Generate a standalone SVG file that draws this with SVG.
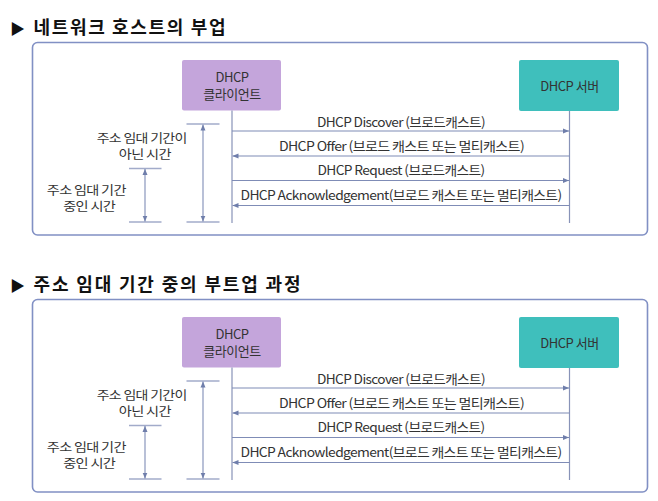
<svg xmlns="http://www.w3.org/2000/svg" width="658" height="501" viewBox="0 0 658 501">
<defs>
<style>
text{font-family:"Noto Sans CJK KR","Noto Sans",sans-serif;fill:#333;}
.title{font-size:18px;font-weight:bold;fill:#111;}
.msg{font-size:13px;text-anchor:middle;letter-spacing:-0.6px;}
.lbl{font-size:12.5px;text-anchor:middle;letter-spacing:-0.6px;}
.node{font-size:13px;text-anchor:middle;letter-spacing:-0.5px;}
.panel{fill:#fff;stroke:#8190c4;stroke-width:1.6;}
.client{fill:#c4a5db;}
.server{fill:#3fbfbc;}
.life{stroke:#8893b8;stroke-width:1.2;fill:none;}
.arr{stroke:#7f8cb6;stroke-width:1.1;fill:none;}
.tick{stroke:#a2abca;stroke-width:1.6;fill:none;}
.dim{stroke:#7f8cb6;stroke-width:1.1;fill:none;marker-start:url(#ah);marker-end:url(#ah);}
</style>
<marker id="ah" viewBox="0 0 6 6" refX="6" refY="3" markerWidth="6" markerHeight="6" markerUnits="userSpaceOnUse" orient="auto-start-reverse">
<path d="M0,0.5 L6,3 L0,5.5 z" fill="#6f7eab"/>
</marker>
</defs>

<!-- Panel 1 -->
<g id="title1"><text class="title" x="10" y="34"><tspan font-size="15">▶</tspan><tspan x="33.5" textLength="192" lengthAdjust="spacing">네트워크 호스트의 부업</tspan></text></g>
<g id="panel1">
<rect class="panel" x="32.5" y="42.5" width="615" height="192.5" rx="5"/>
<g id="p1-client"><rect class="client" x="182" y="60" width="99" height="50.5" rx="2"/><text class="node" x="232" y="82">DHCP</text><text class="node" x="232" y="98.5">클라이언트</text></g>
<g id="p1-server"><rect class="server" x="519" y="60" width="100" height="51" rx="2"/><text class="node" x="569.5" y="90.5">DHCP 서버</text></g>
<g id="p1-connectors">
<line class="life" x1="232" y1="110.5" x2="232" y2="223"/>
<line class="life" x1="569.5" y1="111" x2="569.5" y2="223"/>
<line class="arr" x1="232" y1="131" x2="569" y2="131" marker-end="url(#ah)"/>
<line class="arr" x1="569.5" y1="156" x2="232.5" y2="156" marker-end="url(#ah)"/>
<line class="arr" x1="232" y1="180.5" x2="569" y2="180.5" marker-end="url(#ah)"/>
<line class="arr" x1="569.5" y1="205.5" x2="232.5" y2="205.5" marker-end="url(#ah)"/>
<line class="tick" x1="186.5" y1="124" x2="219.5" y2="124"/>
<line class="tick" x1="186.5" y1="222" x2="219.5" y2="222"/>
<line class="dim" x1="203" y1="124.5" x2="203" y2="221.5"/>
<line class="tick" x1="129" y1="168.5" x2="161.5" y2="168.5"/>
<line class="tick" x1="129" y1="222" x2="161.5" y2="222"/>
<line class="dim" x1="145" y1="169" x2="145" y2="221.5"/>
</g>
<g id="p1-labels">
<text class="msg" x="401" y="126.5" textLength="168" lengthAdjust="spacingAndGlyphs">DHCP Discover (브로드캐스트)</text>
<text class="msg" x="401.5" y="150.5" textLength="245" lengthAdjust="spacingAndGlyphs">DHCP Offer (브로드 캐스트 또는 멀티캐스트)</text>
<text class="msg" x="401" y="175" textLength="167" lengthAdjust="spacingAndGlyphs">DHCP Request (브로드캐스트)</text>
<text class="msg" x="401" y="200" textLength="321" lengthAdjust="spacingAndGlyphs">DHCP Acknowledgement(브로드 캐스트 또는 멀티캐스트)</text>
<text class="lbl" x="141.7" y="143" textLength="90" lengthAdjust="spacingAndGlyphs">주소 임대 기간이</text>
<text class="lbl" x="144.8" y="159" textLength="52" lengthAdjust="spacingAndGlyphs">아닌 시간</text>
<text class="lbl" x="86.3" y="194.5" textLength="79" lengthAdjust="spacingAndGlyphs">주소 임대 기간</text>
<text class="lbl" x="89.2" y="211" textLength="52" lengthAdjust="spacingAndGlyphs">중인 시간</text>
</g>
</g>

<!-- Panel 2 -->
<g id="title2"><text class="title" x="10" y="291"><tspan font-size="15">▶</tspan><tspan x="33.5" textLength="267" lengthAdjust="spacing">주소 임대 기간 중의 부트업 과정</tspan></text></g>
<g id="panel2" transform="translate(0,257)">
<rect class="panel" x="32.5" y="42.5" width="615" height="192.5" rx="5"/>
<g id="p2-client"><rect class="client" x="182" y="60" width="99" height="50.5" rx="2"/><text class="node" x="232" y="82">DHCP</text><text class="node" x="232" y="98.5">클라이언트</text></g>
<g id="p2-server"><rect class="server" x="519" y="60" width="100" height="51" rx="2"/><text class="node" x="569.5" y="90.5">DHCP 서버</text></g>
<g id="p2-connectors">
<line class="life" x1="232" y1="110.5" x2="232" y2="223"/>
<line class="life" x1="569.5" y1="111" x2="569.5" y2="223"/>
<line class="arr" x1="232" y1="131" x2="569" y2="131" marker-end="url(#ah)"/>
<line class="arr" x1="569.5" y1="156" x2="232.5" y2="156" marker-end="url(#ah)"/>
<line class="arr" x1="232" y1="180.5" x2="569" y2="180.5" marker-end="url(#ah)"/>
<line class="arr" x1="569.5" y1="205.5" x2="232.5" y2="205.5" marker-end="url(#ah)"/>
<line class="tick" x1="186.5" y1="124" x2="219.5" y2="124"/>
<line class="tick" x1="186.5" y1="222" x2="219.5" y2="222"/>
<line class="dim" x1="203" y1="124.5" x2="203" y2="221.5"/>
<line class="tick" x1="129" y1="168.5" x2="161.5" y2="168.5"/>
<line class="tick" x1="129" y1="222" x2="161.5" y2="222"/>
<line class="dim" x1="145" y1="169" x2="145" y2="221.5"/>
</g>
<g id="p2-labels">
<text class="msg" x="401" y="126.5" textLength="168" lengthAdjust="spacingAndGlyphs">DHCP Discover (브로드캐스트)</text>
<text class="msg" x="401.5" y="150.5" textLength="245" lengthAdjust="spacingAndGlyphs">DHCP Offer (브로드 캐스트 또는 멀티캐스트)</text>
<text class="msg" x="401" y="175" textLength="167" lengthAdjust="spacingAndGlyphs">DHCP Request (브로드캐스트)</text>
<text class="msg" x="401" y="200" textLength="321" lengthAdjust="spacingAndGlyphs">DHCP Acknowledgement(브로드 캐스트 또는 멀티캐스트)</text>
<text class="lbl" x="141.7" y="143" textLength="90" lengthAdjust="spacingAndGlyphs">주소 임대 기간이</text>
<text class="lbl" x="144.8" y="159" textLength="52" lengthAdjust="spacingAndGlyphs">아닌 시간</text>
<text class="lbl" x="86.3" y="194.5" textLength="79" lengthAdjust="spacingAndGlyphs">주소 임대 기간</text>
<text class="lbl" x="89.2" y="211" textLength="52" lengthAdjust="spacingAndGlyphs">중인 시간</text>
</g>
</g>
</svg>
